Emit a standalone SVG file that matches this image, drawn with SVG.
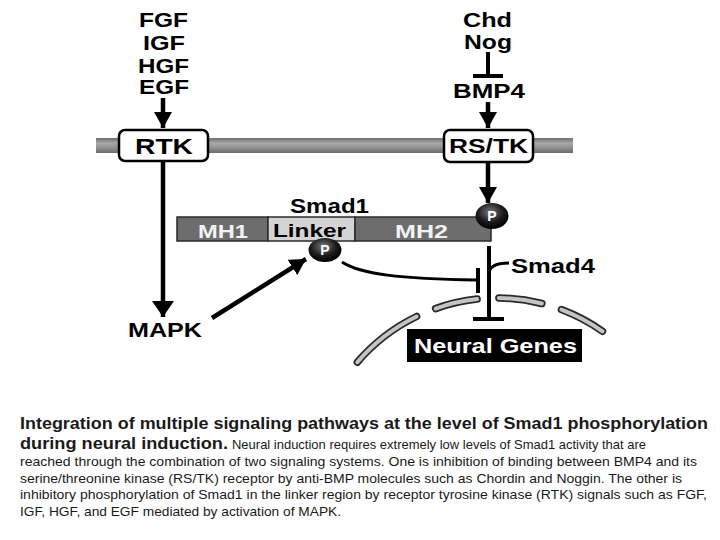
<svg xmlns="http://www.w3.org/2000/svg" width="720" height="540" viewBox="0 0 720 540">
<defs>
<style>
.lb{font-family:"Liberation Sans",Arial,sans-serif;font-weight:bold;fill:#000}
.wt{fill:#f2f2f2}
.pt{font-family:"Liberation Sans",Arial,sans-serif;font-weight:bold;fill:#fff;font-size:14px}
.cap{font-family:"Liberation Sans",Arial,sans-serif;fill:#1a1a1a}
.ln{stroke:#000;stroke-width:4.5;fill:none}
.inh{stroke:#000;stroke-width:4;fill:none}
.box{fill:#fff;stroke:#000;stroke-width:2.5}
.env1{stroke:#2a2a2a;stroke-width:7.5;fill:none;stroke-linecap:round}
.env2{stroke:#c4c4c4;stroke-width:4;fill:none;stroke-linecap:round}
</style>
<linearGradient id="mem" x1="0" y1="0" x2="0" y2="1">
<stop offset="0" stop-color="#6e6e6e"/>
<stop offset="0.35" stop-color="#a8a8a8"/>
<stop offset="0.7" stop-color="#8c8c8c"/>
<stop offset="1" stop-color="#6a6a6a"/>
</linearGradient>
<radialGradient id="ph" cx="0.45" cy="0.35" r="0.65">
<stop offset="0" stop-color="#7a7a7a"/>
<stop offset="0.6" stop-color="#1a1a1a"/>
<stop offset="1" stop-color="#000"/>
</radialGradient>
<marker id="ah" viewBox="0 0 16 18" refX="16" refY="9" markerWidth="16" markerHeight="18" markerUnits="userSpaceOnUse" orient="auto">
<path d="M0,0 L16,9 L0,18 Z" fill="#000"/>
</marker>
<marker id="ahb" viewBox="0 0 16 22" refX="16" refY="11" markerWidth="16" markerHeight="22" markerUnits="userSpaceOnUse" orient="auto">
<path d="M0,0 L16,11 L0,22 Z" fill="#000"/>
</marker>
</defs>
<rect width="720" height="540" fill="#fff"/>

<g id="membrane">
<rect x="96" y="138" width="477" height="15" fill="url(#mem)"/>
</g>

<g id="nuclear-envelope">
<path class="env1" d="M357.3,362.2 A184,184 0 0 1 416.6,316.5"/>
<path class="env2" d="M357.3,362.2 A184,184 0 0 1 416.6,316.5"/>
<path class="env1" d="M435.6,308.6 A184,184 0 0 1 477.1,299.1"/>
<path class="env2" d="M435.6,308.6 A184,184 0 0 1 477.1,299.1"/>
<path class="env1" d="M498.9,298 A184,184 0 0 1 541.8,303.5"/>
<path class="env2" d="M498.9,298 A184,184 0 0 1 541.8,303.5"/>
<path class="env1" d="M561.4,309.6 A184,184 0 0 1 602.5,331.3"/>
<path class="env2" d="M561.4,309.6 A184,184 0 0 1 602.5,331.3"/>
</g>

<g id="connectors">
<line class="ln" x1="163" y1="98" x2="163" y2="128" marker-end="url(#ah)"/>
<line class="ln" x1="163" y1="161" x2="163" y2="317" marker-end="url(#ahb)"/>
<line class="inh" x1="488" y1="52" x2="488" y2="76"/>
<line class="inh" x1="473" y1="76" x2="503" y2="76"/>
<line class="ln" x1="488" y1="102" x2="488" y2="128" marker-end="url(#ah)"/>
<line class="ln" x1="488" y1="162" x2="488" y2="203" marker-end="url(#ah)"/>
<line class="ln" x1="212" y1="318" x2="306" y2="259" marker-end="url(#ah)"/>
<path d="M342,262 C360,274 400,279 476,280" stroke="#000" stroke-width="3" fill="none"/>
<line class="inh" x1="478" y1="268" x2="478" y2="293"/>
<line class="inh" x1="489" y1="246" x2="489" y2="319"/>
<line class="inh" x1="473" y1="319" x2="504" y2="319"/>
<path d="M489,273 Q490,263 509,263" stroke="#000" stroke-width="3" fill="none"/>
</g>

<g id="ligands-rtk">
<text class="lb" x="139" y="27" font-size="20" textLength="49" lengthAdjust="spacingAndGlyphs">FGF</text>
<text class="lb" x="143" y="50" font-size="20" textLength="42" lengthAdjust="spacingAndGlyphs">IGF</text>
<text class="lb" x="138" y="73" font-size="20" textLength="51" lengthAdjust="spacingAndGlyphs">HGF</text>
<text class="lb" x="139" y="94" font-size="20" textLength="50" lengthAdjust="spacingAndGlyphs">EGF</text>
</g>

<g id="antagonists">
<text class="lb" x="463" y="27" font-size="20" textLength="49" lengthAdjust="spacingAndGlyphs">Chd</text>
<text class="lb" x="464" y="49" font-size="20" textLength="48" lengthAdjust="spacingAndGlyphs">Nog</text>
</g>

<g id="bmp4">
<text class="lb" x="453" y="98" font-size="21" textLength="72" lengthAdjust="spacingAndGlyphs">BMP4</text>
</g>

<g id="rtk">
<rect class="box" x="119" y="130" width="89" height="31" rx="6"/>
<text class="lb" x="135" y="154" font-size="22" textLength="58" lengthAdjust="spacingAndGlyphs">RTK</text>
</g>

<g id="rstk">
<rect class="box" x="444" y="130" width="89" height="32" rx="6"/>
<text class="lb" x="449" y="153" font-size="21" textLength="79" lengthAdjust="spacingAndGlyphs">RS/TK</text>
</g>

<g id="smad1">
<text class="lb" x="290" y="213" font-size="20" textLength="79" lengthAdjust="spacingAndGlyphs">Smad1</text>
<rect x="177" y="217" width="91" height="24" fill="#6d6d6d" stroke="#2a2a2a" stroke-width="1.5"/>
<rect x="268" y="217" width="87" height="24" fill="#d4d4d4" stroke="#2a2a2a" stroke-width="1.5"/>
<rect x="355" y="217" width="136" height="24" fill="#6d6d6d" stroke="#2a2a2a" stroke-width="1.5"/>
<text class="lb wt" x="198" y="238" font-size="18" textLength="50" lengthAdjust="spacingAndGlyphs">MH1</text>
<text class="lb" x="273" y="237" font-size="18" textLength="73" lengthAdjust="spacingAndGlyphs">Linker</text>
<text class="lb wt" x="395" y="238" font-size="18" textLength="53" lengthAdjust="spacingAndGlyphs">MH2</text>
</g>

<g id="p-linker">
<ellipse cx="325" cy="250" rx="16.5" ry="12" fill="url(#ph)"/>
<text class="pt" x="325" y="255" text-anchor="middle">P</text>
</g>

<g id="p-c-term">
<ellipse cx="492" cy="216" rx="16.5" ry="13" fill="url(#ph)"/>
<text class="pt" x="492" y="221" text-anchor="middle">P</text>
</g>

<g id="mapk">
<text class="lb" x="128" y="337" font-size="20" textLength="74" lengthAdjust="spacingAndGlyphs">MAPK</text>
</g>

<g id="smad4">
<text class="lb" x="511" y="273" font-size="21" textLength="84" lengthAdjust="spacingAndGlyphs">Smad4</text>
</g>

<g id="neural-genes">
<rect x="407" y="329" width="175" height="33" fill="#000"/>
<text class="lb" x="414" y="353" font-size="21" style="fill:#fff" textLength="163" lengthAdjust="spacingAndGlyphs">Neural Genes</text>
</g>

<g id="caption">
<text class="cap" x="20" y="429" font-size="17" font-weight="bold" textLength="688" lengthAdjust="spacingAndGlyphs">Integration of multiple signaling pathways at the level of Smad1 phosphorylation</text>
<text class="cap" x="20" y="449" font-size="17" font-weight="bold" textLength="208" lengthAdjust="spacingAndGlyphs">during neural induction.</text>
<text class="cap" x="232" y="449" font-size="13.5" textLength="414" lengthAdjust="spacingAndGlyphs">Neural induction requires extremely low levels of Smad1 activity that are</text>
<text class="cap" x="20" y="466" font-size="13.5" textLength="677" lengthAdjust="spacingAndGlyphs">reached through the combination of two signaling systems. One is inhibition of binding between BMP4 and its</text>
<text class="cap" x="20" y="482.5" font-size="13.5" textLength="662" lengthAdjust="spacingAndGlyphs">serine/threonine kinase (RS/TK) receptor by anti-BMP molecules such as Chordin and Noggin. The other is</text>
<text class="cap" x="20" y="499" font-size="13.5" textLength="687" lengthAdjust="spacingAndGlyphs">inhibitory phosphorylation of Smad1 in the linker region by receptor tyrosine kinase (RTK) signals such as FGF,</text>
<text class="cap" x="20" y="515.5" font-size="13.5" textLength="321" lengthAdjust="spacingAndGlyphs">IGF, HGF, and EGF mediated by activation of MAPK.</text>
</g>
</svg>
